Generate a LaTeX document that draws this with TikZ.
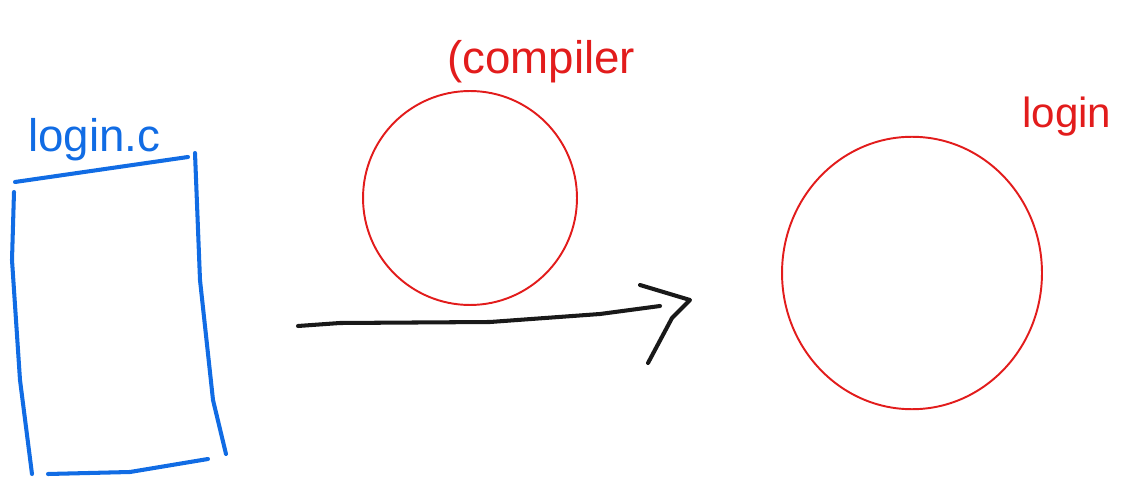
\documentclass[tikz,border=0pt]{standalone}
\usepackage{fontspec}
\setmainfont{Liberation Sans}
\definecolor{skblue}{RGB}{17,108,228}
\definecolor{skred}{RGB}{226,28,28}
\definecolor{skblack}{RGB}{25,25,25}
\usetikzlibrary{arrows.meta,positioning,calc,shapes.geometric}

\begin{document}
\begin{tikzpicture}[x=0.02cm, y=-0.02cm,
    filepen/.style={draw=skblue, line width=2.3pt, line cap=round},
    progpen/.style={draw=skred, line width=1.1pt, inner sep=0pt},
    arrpen/.style={draw=skblack, line width=2.3pt, line cap=round, line join=round},
    hand/.style={inner sep=0pt, anchor=base west, font=\fontsize{26}{30}\selectfont}
  ]
    \useasboundingbox (0,0) rectangle (1135,489);

    % Source file
    \draw[filepen] (15,182) -- (188,157);
    \draw[filepen] (14,192) -- (12,260) -- (20,380) -- (32,474);
    \draw[filepen] (195,153) -- (200,280) -- (213,400) -- (226,454);
    \draw[filepen] (48,474) -- (130,472) -- (208,459);
    \node[hand, text=skblue] (srclbl) at (28,152) {login.c};

    % Compiler
    \node[progpen, circle, minimum size=4.28cm] (cc) at (470,198) {};
    \node[hand, text=skred] (cclbl) at (447,74) {(compiler};

    % Binary
    \node[progpen, ellipse, minimum width=5.2cm, minimum height=5.45cm] (bin) at (912,273) {};
    \node[hand, text=skred, font=\fontsize{24}{28}\selectfont] (binlbl) at (1022,128) {login};

    % Arrow
    \coordinate (arrstart) at (298,326);
    \coordinate (arrtip) at (690,300);
    \draw[arrpen] (arrstart) -- (340,323) -- (490,322) -- (600,314) -- (660,306);
    \draw[arrpen] ($(arrtip)+(-50,-15)$) -- (arrtip) -- ($(arrtip)+(-18,18)$) -- ($(arrtip)+(-42,63)$);
\end{tikzpicture}
\end{document}
